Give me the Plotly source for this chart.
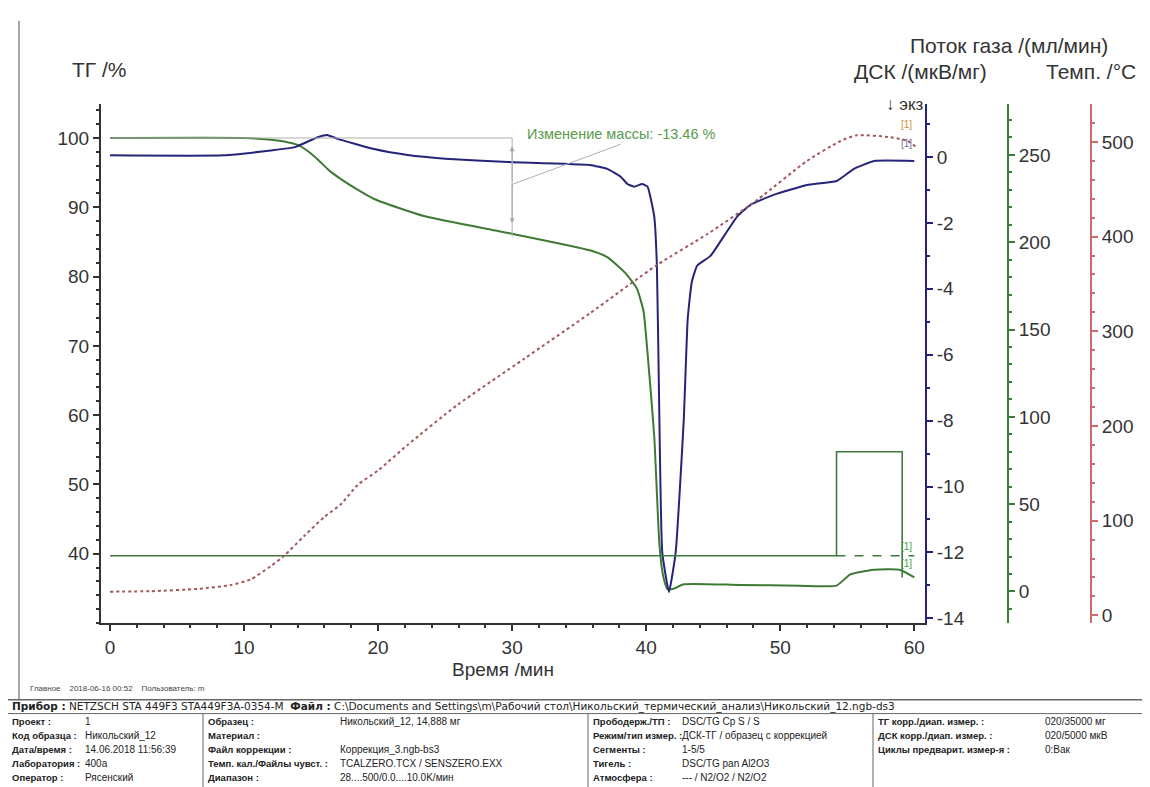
import plotly.graph_objects as go

# ---------------- data ----------------
time_tg = [0, 10, 11.8, 13.0, 14.0, 14.7, 15.5, 16.3, 17.2, 18.5, 19.7, 23.5, 29.7, 35.8, 37.1, 38.4,
           39.3, 39.8, 40.1, 40.6, 41.0, 41.3, 41.6, 42.1, 42.8, 47, 51.5, 54.2, 55.2, 57, 58.9, 60]
tg = [100, 100, 99.8, 99.5, 99.0, 98.2, 96.9, 95.4, 94.1, 92.5, 91.2, 88.7, 86.3, 83.8, 82.8, 80.6,
      78.3, 75, 69, 57, 41, 36.5, 34.9, 35.0, 35.6, 35.5, 35.4, 35.4, 37, 37.7, 37.7, 36.6]

time_dsc = [0, 8.5, 12, 13.8, 15.5, 16.2, 17, 19.7, 22.2, 25, 29.7, 35.8, 37.1, 38.1, 38.6, 39.1,
            39.7, 40.1, 40.6, 40.8, 40.95, 41.2, 41.7, 42.2, 42.8, 43.1, 43.4, 43.8, 44.8, 45.8,
            46.8, 47.8, 49.5, 52, 54.2, 55.5, 57, 60]
dsc = [0.05, 0.05, 0.2, 0.3, 0.6, 0.67, 0.55, 0.24, 0.06, -0.05, -0.15, -0.24, -0.36, -0.6, -0.82,
       -0.9, -0.82, -0.9, -1.8, -3.3, -7, -12, -13.2, -12, -8, -4.9, -3.8, -3.3, -3.0, -2.4,
       -1.8, -1.45, -1.15, -0.85, -0.73, -0.36, -0.12, -0.12]

time_temp = [0, 3, 6.6, 9, 10.5, 12, 13, 14.5, 16, 17.2, 18.5, 20, 22.2, 25.9, 30.9, 35.8, 40.8,
             44.6, 48.3, 52, 54.5, 55.7, 58.2, 59.5, 60.2]
temp = [25, 25.5, 28, 32, 38, 52, 63, 84, 104, 117, 138, 153, 180, 222, 271, 319, 370,
        403, 439, 480, 501, 507, 505, 501, 494]

time_flow1 = [0, 54.2, 54.2, 59.1, 59.1]
flow1 = [20.5, 20.5, 80, 80, 8]
time_flow2 = [54.2, 60]
flow2 = [20.5, 20.5]

x_ticks = [0, 10, 20, 30, 40, 50, 60]
tg_ticks = [40, 50, 60, 70, 80, 90, 100]
dsc_ticks = [-14, -12, -10, -8, -6, -4, -2, 0]
dsc_ticktext = ["-14", "-12", "-10", "-8", "-6", "-4", "-2", "0"]
flow_ticks = [0, 50, 100, 150, 200, 250]
temp_ticks = [0, 100, 200, 300, 400, 500]

mass_change_text = "Изменение массы: -13.46 %"
mass_step = [100, 86.5]
mass_step_time = 30

header_text = ("<b>Прибор :</b> NETZSCH STA 449F3 STA449F3A-0354-M  <b>Файл :</b> "
               "C:\\Documents and Settings\\m\\Рабочий стол\\Никольский_термический_анализ\\Никольский_12.ngb-ds3")
col1_labels = ["Проект :", "Код образца :", "Дата/время :", "Лаборатория :", "Оператор :"]
col1_values = ["1", "Никольский_12", "14.06.2018 11:56:39", "400а", "Рясенский"]
col2_labels = ["Образец :", "Материал :", "Файл коррекции :", "Темп. кал./Файлы чувст. :", "Диапазон :"]
col2_values = ["Никольский_12, 14,888 мг", "", "Коррекция_3.ngb-bs3", "TCALZERO.TCX / SENSZERO.EXX",
               "28....500/0.0....10.0K/мин"]
col3_labels = ["Прободерж./ТП :", "Режим/тип измер. :", "Сегменты :", "Тигель :", "Атмосфера :"]
col3_values = ["DSC/TG Cp S / S", "ДСК-ТГ / образец с коррекцией", "1-5/5", "DSC/TG pan Al2O3",
               "--- / N2/O2 / N2/O2"]
col4_labels = ["ТГ корр./диап. измер. :", "ДСК корр./диап. измер. :", "Циклы предварит. измер-я :"]
col4_values = ["020/35000 мг", "020/5000 мкВ", "0:Вак"]
footer_note = "Главное    2018-06-16 00:52    Пользователь: m"

# ---------------- layout helpers ----------------
W, H = 1150, 787
def px(x):
    return x / W
def py(y):
    return 1 - y / H

FONT = "Liberation Sans, Arial, sans-serif"
C_TG = "#3e7a34"
C_DSC = "#25247a"
C_TEMP = "#a05858"
C_FLOW = "#3e7a3e"
C_AX = "#333333"

fig = go.Figure()

fig.add_trace(go.Scatter(x=time_temp, y=temp, yaxis="y4", mode="lines",
                         line=dict(color=C_TEMP, width=2, dash="dot", shape="spline", smoothing=0.6),
                         hoverinfo="skip"))
fig.add_trace(go.Scatter(x=time_flow1, y=flow1, yaxis="y3", mode="lines",
                         line=dict(color=C_FLOW, width=1.6), hoverinfo="skip"))
fig.add_trace(go.Scatter(x=time_flow2, y=flow2, yaxis="y3", mode="lines",
                         line=dict(color=C_FLOW, width=1.6, dash="dash"), hoverinfo="skip"))
fig.add_trace(go.Scatter(x=time_tg, y=tg, yaxis="y", mode="lines",
                         line=dict(color=C_TG, width=2, shape="spline", smoothing=0.5),
                         hoverinfo="skip"))
fig.add_trace(go.Scatter(x=time_dsc, y=dsc, yaxis="y2", mode="lines",
                         line=dict(color=C_DSC, width=2, shape="spline", smoothing=0.4),
                         hoverinfo="skip"))

tickfont = dict(family=FONT, size=19, color=C_AX)
dom_y = [py(620), py(97)]

def yax(color, rng, ticks, minor, **kw):
    d = dict(range=rng, domain=dom_y, tickvals=ticks, showline=True, linecolor=color, linewidth=2,
             ticks="outside", ticklen=6, tickwidth=1.5, tickcolor=color, tickfont=tickfont,
             showgrid=False, zeroline=False, fixedrange=True,
             minor=dict(dtick=minor, ticks="outside", ticklen=3, tickcolor=color, showgrid=False))
    d.update(kw)
    return d

fig.update_layout(
    width=W, height=H, autosize=False,
    margin=dict(l=0, r=0, t=0, b=0),
    paper_bgcolor="white", plot_bgcolor="white",
    showlegend=False,
    xaxis=dict(domain=[px(93), px(917)], range=[-0.67, 60.8], tickvals=x_ticks,
               showline=True, linecolor=C_AX, linewidth=2, ticks="outside", ticklen=6,
               tickwidth=1.5, tickcolor=C_AX, tickfont=tickfont, showgrid=False, zeroline=False,
               anchor="y",
               minor=dict(dtick=2, ticks="outside", ticklen=3, tickcolor=C_AX, showgrid=False)),
    yaxis=yax(C_AX, [29.97, 104.87], tg_ticks, 2, anchor="x"),
    yaxis2=yax(C_DSC, [-14.15, 1.6], dsc_ticks, 1, overlaying="y", side="right", anchor="x",
               ticktext=dsc_ticktext),
    yaxis3=yax(C_FLOW, [-18.2, 279], flow_ticks, 10, overlaying="y", side="right",
               anchor="free", position=px(1000)),
    yaxis4=yax("#d06a6a", [-8.4, 539.8], temp_ticks, 20, overlaying="y", side="right",
               anchor="free", position=px(1083)),
)

ann = []
def txt(x, y, s, size=17, color=C_AX, xanchor="left", yanchor="middle", family=FONT, **kw):
    ann.append(dict(x=px(x), y=py(y), xref="paper", yref="paper", text=s, showarrow=False,
                    xanchor=xanchor, yanchor=yanchor,
                    font=dict(family=family, size=size, color=color), **kw))

# axis titles
txt(62, 62, "ТГ /%", size=21)
txt(1102, 38, "Поток газа /(мл/мин)", size=21, xanchor="right")
txt(981, 64, "ДСК /(мкВ/мг)", size=21, xanchor="right")
txt(1130, 64, "Темп. /°C", size=21, xanchor="right")
txt(495, 667, "Время /мин", size=19, xanchor="center")
txt(918, 97, "↓ экз", size=17, xanchor="right")

# curve labels
txt(906, 117, "[1]", size=10, color="#d09040", xanchor="right")
txt(906, 137, "[1]", size=10, color="#7a6a9a", xanchor="right")
txt(906, 543, "[1]", size=10, color="#4a9a4a", xanchor="right")
txt(906, 560, "[1]", size=10, color="#4a9a4a", xanchor="right")

# mass-change annotation
txt(517, 127, mass_change_text, size=14.5, color="#5a9a4a")

# double arrow heads
for y_tip, y_tail in [(mass_step[0] - 1.2, 93.5), (mass_step[1] + 1.2, 93.5)]:
    ann.append(dict(x=mass_step_time, y=y_tip, ax=mass_step_time, ay=y_tail, xref="x", yref="y",
                    axref="x", ayref="y", showarrow=True, arrowhead=2, arrowsize=1,
                    arrowwidth=1, arrowcolor="#a8a8a8", text=""))

# footer and table
txt(20, 686, footer_note, size=8, color="#444444")
txt(2, 704, header_text, size=10.5, color="#222222", family="DejaVu Sans, sans-serif")
row_y = [719, 733, 747, 761, 775]
for labels, values, xl, xv in [(col1_labels, col1_values, 2, 75),
                               (col2_labels, col2_values, 198, 330),
                               (col3_labels, col3_values, 583, 672),
                               (col4_labels, col4_values, 868, 1035)]:
    for i, (l, v) in enumerate(zip(labels, values)):
        txt(xl, row_y[i], "<b>" + l + "</b>", size=9.5, color="#222222")
        if v:
            txt(xv, row_y[i], v, size=10, color="#222222")

fig.update_layout(annotations=ann)

shapes = []
# mass-change reference lines
shapes.append(dict(type="line", xref="x", yref="y", x0=0, x1=mass_step_time, y0=mass_step[0],
                   y1=mass_step[0], line=dict(color="#b0b0b0", width=1)))
shapes.append(dict(type="line", xref="x", yref="y", x0=mass_step_time, x1=mass_step_time,
                   y0=mass_step[0], y1=mass_step[1] - 0.8, line=dict(color="#b0b0b0", width=1)))
shapes.append(dict(type="line", xref="x", yref="y", x0=mass_step_time, x1=38.1, y0=93.3, y1=99.1,
                   line=dict(color="#b0b0b0", width=1)))
# page frame
shapes.append(dict(type="line", xref="paper", yref="paper", x0=px(11), x1=px(11), y0=py(13),
                   y1=py(697), line=dict(color="#888888", width=1.5)))
shapes.append(dict(type="line", xref="paper", yref="paper", x0=0, x1=1, y0=py(697), y1=py(697),
                   line=dict(color="#666666", width=1.5)))
shapes.append(dict(type="line", xref="paper", yref="paper", x0=0, x1=1, y0=py(711), y1=py(711),
                   line=dict(color="#666666", width=1)))
for xs in [195, 580, 865]:
    shapes.append(dict(type="line", xref="paper", yref="paper", x0=px(xs), x1=px(xs), y0=py(711),
                       y1=0, line=dict(color="#666666", width=1)))
fig.update_layout(shapes=shapes)

fig.write_html("out.html")
